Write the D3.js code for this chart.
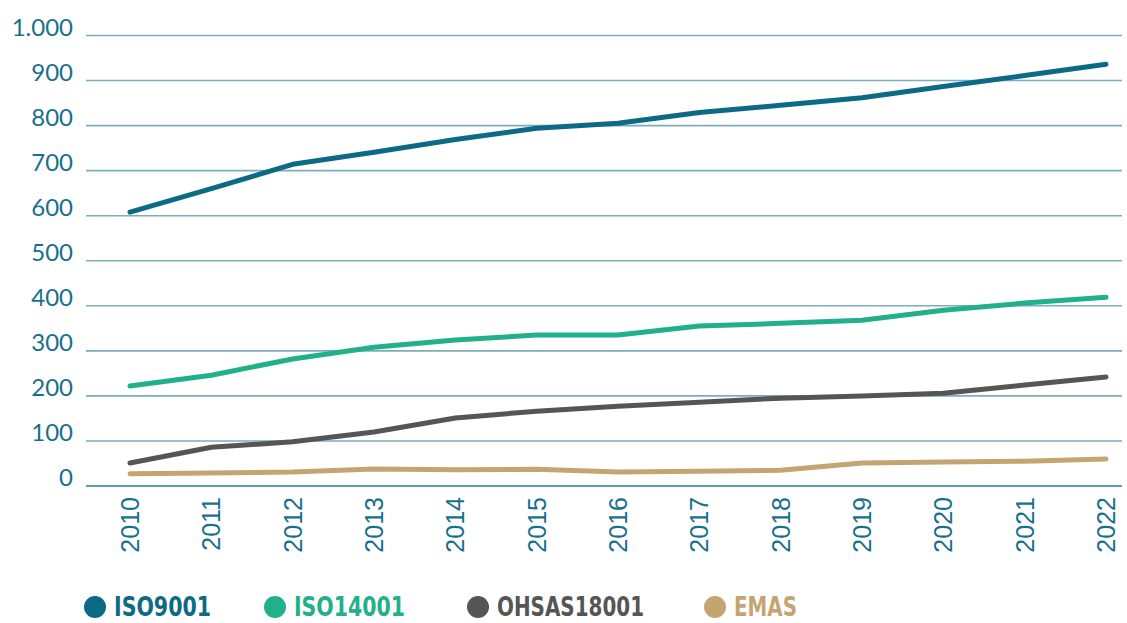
<!DOCTYPE html>
<html>
<head>
<meta charset="utf-8">
<script src="https://cdn.jsdelivr.net/npm/d3@7"></script>
<style>
body { margin: 0; background: #fff; }
svg { display: block; }
</style>
</head>
<body>
<div id="chart"></div>
<script>
// data
var years = [2010, 2011, 2012, 2013, 2014, 2015, 2016, 2017, 2018, 2019, 2020, 2021, 2022];
var iso9001 = [608, 660, 714, 741, 769, 794, 805, 829, 845, 862, 887, 911, 936];
var iso14001 = [222, 246, 282, 308, 324, 335, 335, 355, 361, 368, 390, 406, 419];
var ohsas18001 = [51, 86, 98, 120, 151, 166, 177, 186, 195, 200, 206, 224, 242];
var emas = [27, 29, 31, 38, 36, 37, 31, 33, 35, 51, 53, 55, 60];
var yTicks = [0, 100, 200, 300, 400, 500, 600, 700, 800, 900, 1000];
var seriesNames = ["ISO9001", "ISO14001", "OHSAS18001", "EMAS"];
var seriesColors = ["#0d6a87", "#22b08a", "#555555", "#c4a572"];

var width = 1127, height = 623;
var textColor = "#17708c";

var svg = d3.select("#chart").append("svg")
    .attr("width", width)
    .attr("height", height);

var scalex = d3.scaleLinear().domain([2010, 2022]).range([130, 1106]);
var scaley = d3.scaleLinear().domain([0, 1000]).range([486, 35.5]);

// grid lines
svg.append("g").selectAll("line")
    .data(yTicks)
    .enter().append("line")
    .attr("x1", 86)
    .attr("x2", 1122)
    .attr("y1", function (d) { return scaley(d); })
    .attr("y2", function (d) { return scaley(d); })
    .attr("stroke", function (d) { return d == 0 ? "#2a7d96" : "#7badbb"; })
    .attr("stroke-width", 1.6);

// y labels
var fmt = function (d) { return d >= 1000 ? d3.format(",")(d).replace(",", ".") : d; };
svg.append("g").selectAll("text")
    .data(yTicks)
    .enter().append("text")
    .attr("x", 73)
    .attr("y", function (d) { return scaley(d) - 8; })
    .attr("dy", "0.35em")
    .attr("text-anchor", "end")
    .attr("font-family", "Lato, 'Noto Sans', sans-serif")
    .attr("font-size", 24)
    .attr("fill", textColor)
    .text(fmt);

// x labels (rotated)
svg.append("g").selectAll("text")
    .data(years)
    .enter().append("text")
    .attr("transform", function (d) { return "translate(" + scalex(d) + ",497) rotate(-90)"; })
    .attr("dy", "0.36em")
    .attr("text-anchor", "end")
    .attr("font-family", "'Liberation Sans', Arial, sans-serif")
    .attr("font-size", 25)
    .attr("fill", textColor)
    .text(function (d) { return d; });

// lines
var valueline = d3.line()
    .x(function (d, i) { return scalex(years[i]); })
    .y(function (d) { return scaley(d); });

var allSeries = [iso9001, iso14001, ohsas18001, emas];
for (var i = allSeries.length - 1; i >= 0; i--) {
    svg.append("path")
        .datum(allSeries[i])
        .attr("d", valueline)
        .attr("fill", "none")
        .attr("stroke", seriesColors[i])
        .attr("stroke-width", 5)
        .attr("stroke-linecap", "round")
        .attr("stroke-linejoin", "round");
}

// legend
var legendX = [95, 275, 478, 715];
var legendW = [97, 111, 147, 63];
var leg = svg.append("g");
seriesNames.forEach(function (name, i) {
    leg.append("circle")
        .attr("cx", legendX[i])
        .attr("cy", 607)
        .attr("r", 11)
        .attr("fill", seriesColors[i]);
    leg.append("text")
        .attr("x", legendX[i] + 19)
        .attr("y", 616)
        .attr("font-family", "'DejaVu Sans Condensed', 'DejaVu Sans', sans-serif")
        .attr("font-stretch", "condensed")
        .attr("font-weight", "bold")
        .attr("font-size", 26)
        .attr("textLength", legendW[i])
        .attr("lengthAdjust", "spacingAndGlyphs")
        .attr("fill", seriesColors[i])
        .text(name);
});
</script>
</body>
</html>
